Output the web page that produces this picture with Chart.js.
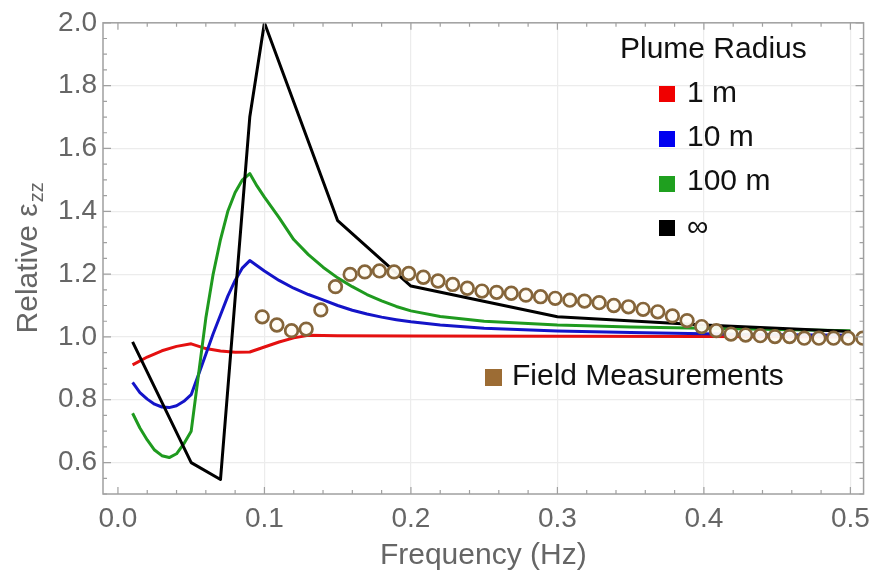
<!DOCTYPE html>
<html>
<head>
<meta charset="utf-8">
<script src="https://cdn.jsdelivr.net/npm/chart.js@4.4.1/dist/chart.umd.min.js"></script>
<style>
  html, body { margin: 0; padding: 0; background: #ffffff; }
  #wrap { width: 878px; height: 580px; }
</style>
</head>
<body>
<div id="wrap"><canvas id="c" width="878" height="580"></canvas></div>
<script>
// ---- Data ----
const seriesNames = ["1 m", "10 m", "100 m", "\u221E"];
const legendTitle = "Plume Radius";
const fieldName = "Field Measurements";

const freq1m = [0.01,0.02,0.03,0.04,0.05,0.06,0.07,0.08,0.09,0.10,0.11,0.12,0.13,0.15,0.2,0.3,0.4,0.5];
const val1m  = [0.911,0.936,0.956,0.970,0.978,0.963,0.955,0.951,0.952,0.968,0.984,0.997,1.005,1.004,1.003,1.002,1.001,1.000];

const freq10m = [0.01,0.015,0.02,0.025,0.03,0.035,0.04,0.045,0.05,0.055,0.06,0.065,0.07,0.075,0.08,0.085,0.09,
                 0.10,0.11,0.12,0.13,0.14,0.15,0.16,0.17,0.18,0.19,0.2,0.22,0.25,0.3,0.35,0.4,0.45,0.5];
const val10m  = [0.855,0.823,0.802,0.786,0.777,0.775,0.781,0.795,0.816,0.880,0.945,1.010,1.070,1.130,1.180,1.220,1.243,
                 1.210,1.180,1.155,1.135,1.118,1.100,1.085,1.073,1.063,1.055,1.048,1.038,1.028,1.019,1.014,1.010,1.007,1.005];

const freq100m = [0.01,0.015,0.02,0.025,0.03,0.035,0.04,0.045,0.05,0.055,0.06,0.065,0.07,0.075,0.08,0.085,0.09,
                  0.095,0.10,0.11,0.12,0.13,0.14,0.15,0.16,0.17,0.18,0.19,0.2,0.22,0.25,0.3,0.35,0.4,0.45,0.5];
const val100m  = [0.757,0.710,0.672,0.640,0.622,0.616,0.628,0.660,0.700,0.880,1.060,1.200,1.310,1.400,1.460,1.500,1.520,
                  1.480,1.445,1.380,1.310,1.262,1.222,1.188,1.160,1.135,1.115,1.097,1.083,1.065,1.050,1.038,1.032,1.028,1.024,1.020];

const freqInf = [0.01,0.05,0.07,0.09,0.10,0.15,0.20,0.30,0.40,0.50];
const valInf  = [0.984,0.600,0.546,1.700,2.000,1.370,1.162,1.064,1.038,1.017];

const fieldFreq = [0.0985,0.1085,0.1185,0.1285,0.1385,0.1485,0.1585,0.1685,0.1785,0.1885,
                   0.1985,0.2085,0.2185,0.2285,0.2385,0.2485,0.2585,0.2685,0.2785,0.2885,
                   0.2985,0.3085,0.3185,0.3285,0.3385,0.3485,0.3585,0.3685,0.3785,0.3885,
                   0.3985,0.4085,0.4185,0.4285,0.4385,0.4485,0.4585,0.4685,0.4785,0.4885,
                   0.4985,0.5085];
const fieldVal  = [1.064,1.038,1.020,1.025,1.086,1.160,1.199,1.207,1.210,1.207,
                   1.202,1.190,1.178,1.167,1.155,1.146,1.142,1.139,1.133,1.128,
                   1.123,1.117,1.114,1.109,1.100,1.096,1.088,1.080,1.067,1.052,
                   1.033,1.020,1.009,1.006,1.004,1.001,1.001,0.996,0.996,0.996,
                   0.996,0.996];

const xTickVals = [0.0,0.1,0.2,0.3,0.4,0.5];
const yTickVals = [0.6,0.8,1.0,1.2,1.4,1.6,1.8,2.0];

// ---- Styles ----
const FONT = "'Liberation Sans', Arial, Helvetica, sans-serif";
const lineColors = ["#e41010", "#1414c8", "#1f9a1f", "#000000"];
const legendColors = ["#f00000", "#0000f0", "#1fa01f", "#000000"];
const fieldStroke = "#85653a";
const fieldLegend = "#9c6c34";
const axisGrey = "#a0a0a0";
const labelGrey = "#666666";

function pts(xs, ys) { return xs.map((x, i) => ({x: x, y: ys[i]})); }

const lineSets = [
  [freq1m, val1m], [freq10m, val10m], [freq100m, val100m], [freqInf, valInf]
];

const datasets = [{
  label: fieldName,
  data: pts(fieldFreq, fieldVal),
  showLine: false,
  pointRadius: 6.3,
  pointBorderWidth: 2.7,
  pointBorderColor: fieldStroke,
  pointBackgroundColor: "rgba(255,252,244,0.95)",
  order: 0
}];
lineSets.forEach((s, i) => {
  datasets.push({
    label: seriesNames[i],
    data: pts(s[0], s[1]),
    showLine: true,
    borderColor: lineColors[i],
    borderWidth: 3,
    pointRadius: 0,
    tension: 0,
    fill: false,
    borderJoinStyle: 'round',
    order: 1 + (3 - i)
  });
});

// Plugin: frame, inward ticks, axis titles, legends
const decor = {
  id: 'decor',
  afterDraw(chart) {
    const ctx = chart.ctx;
    const a = chart.chartArea;
    const xs = chart.scales.x, ys = chart.scales.y;
    ctx.save();
    // frame
    ctx.strokeStyle = axisGrey;
    ctx.lineWidth = 1.5;
    ctx.strokeRect(a.left, a.top, a.right - a.left, a.bottom - a.top);
    // x ticks every 0.02, major every 0.1
    ctx.lineWidth = 1.2;
    for (let k = 0; k <= 25; k++) {
      const v = k * 0.02;
      const px = xs.getPixelForValue(v);
      if (px < a.left || px > a.right) continue;
      const len = (k % 5 === 0) ? 7 : 4;
      ctx.beginPath();
      ctx.moveTo(px, a.bottom); ctx.lineTo(px, a.bottom - len);
      ctx.moveTo(px, a.top); ctx.lineTo(px, a.top + len);
      ctx.stroke();
    }
    // y ticks every 0.05, major every 0.2
    for (let k = 10; k <= 40; k++) {
      const v = k * 0.05;
      const py = ys.getPixelForValue(v);
      const len = (k % 4 === 0) ? 8 : 4;
      ctx.beginPath();
      ctx.moveTo(a.left, py); ctx.lineTo(a.left + len, py);
      ctx.moveTo(a.right, py); ctx.lineTo(a.right - len, py);
      ctx.stroke();
    }
    // x title
    ctx.fillStyle = labelGrey;
    ctx.font = "30px " + FONT;
    ctx.textAlign = "center";
    ctx.textBaseline = "alphabetic";
    ctx.fillText("Frequency (Hz)", (a.left + a.right) / 2, 564);
    // y title with subscript
    ctx.save();
    const cy = (a.top + a.bottom) / 2;
    ctx.translate(37, cy);
    ctx.rotate(-Math.PI / 2);
    ctx.font = "30px " + FONT;
    const main = "Relative \u03B5";
    const wMain = ctx.measureText(main).width;
    ctx.font = "20px " + FONT;
    const sub = "zz";
    const wSub = ctx.measureText(sub).width;
    const total = wMain + wSub;
    ctx.textAlign = "left";
    ctx.font = "30px " + FONT;
    ctx.fillText(main, -total / 2, 0);
    ctx.font = "20px " + FONT;
    ctx.fillText(sub, -total / 2 + wMain + 1, 6);
    ctx.restore();
    // legend
    ctx.fillStyle = "#111111";
    ctx.textAlign = "left";
    ctx.font = "30px " + FONT;
    ctx.fillText(legendTitle, 620, 58);
    const rowsBase = [102, 146, 190, 236];
    const sqCenters = [94, 139, 184, 228];
    for (let i = 0; i < 4; i++) {
      ctx.fillStyle = legendColors[i];
      ctx.fillRect(659, sqCenters[i] - 8, 16, 16);
      ctx.fillStyle = "#111111";
      ctx.fillText(seriesNames[i], 687, rowsBase[i]);
    }
    ctx.fillStyle = fieldLegend;
    ctx.fillRect(485, 369, 17, 17);
    ctx.fillStyle = "#111111";
    ctx.fillText(fieldName, 512, 385);
    ctx.restore();
  }
};

new Chart(document.getElementById('c'), {
  type: 'scatter',
  data: { datasets: datasets },
  options: {
    responsive: false,
    animation: false,
    devicePixelRatio: 1,
    layout: { padding: { top: 21, right: 9, left: 0, bottom: 0 } },
    plugins: { legend: { display: false }, tooltip: { enabled: false }, title: { display: false } },
    scales: {
      x: {
        type: 'linear',
        min: -0.0102,
        max: 0.509,
        afterBuildTicks: (s) => { s.ticks = xTickVals.map(v => ({value: v})); },
        afterFit: (s) => { s.height = 86; },
        ticks: {
          callback: (v) => Number(v).toFixed(1),
          font: { size: 28, family: FONT },
          color: labelGrey,
          padding: 8,
          maxRotation: 0,
          autoSkip: false
        },
        grid: {
          color: (c) => (c.tick && c.tick.value === 0) ? "rgba(0,0,0,0)" : "#ececec",
          lineWidth: 1.2,
          drawTicks: false
        },
        border: { display: false }
      },
      y: {
        type: 'linear',
        min: 0.5,
        max: 2.0,
        afterBuildTicks: (s) => { s.ticks = yTickVals.map(v => ({value: v})); },
        afterFit: (s) => { s.width = 103; },
        ticks: {
          callback: (v) => Number(v).toFixed(1),
          font: { size: 28, family: FONT },
          color: labelGrey,
          padding: 6,
          autoSkip: false
        },
        grid: { color: "#ececec", lineWidth: 1.2, drawTicks: false },
        border: { display: false }
      }
    }
  },
  plugins: [decor]
});
</script>
</body>
</html>
